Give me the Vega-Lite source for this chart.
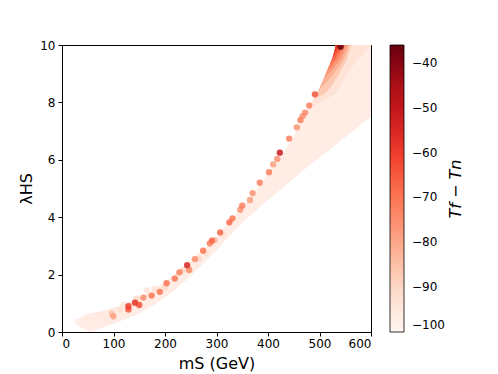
{
  "$schema": "https://vega.github.io/schema/vega-lite/v6.json",
  "width": 309,
  "height": 287,
  "autosize": {"type": "none"},
  "padding": {"left": 62, "top": 45, "right": 127, "bottom": 42},
  "background": "white",
  "config": {
    "font": "DejaVu Sans",
    "view": {"stroke": "black", "strokeWidth": 1},
    "axis": {"grid": false, "labelFont": "DejaVu Sans", "labelFontSize": 12, "labelColor": "black", "tickColor": "black", "domainColor": "black", "tickSize": 4, "titleFont": "DejaVu Sans", "titleFontSize": 16, "titleFontWeight": "normal", "titleColor": "black"},
    "legend": {"labelFont": "DejaVu Sans", "labelFontSize": 12, "labelColor": "black"}
  },
  "datasets": {
    "band": [
      {"m": 25, "lo": 0.3, "hi": 0.42, "T": -97},
      {"m": 40, "lo": 0.12, "hi": 0.55, "T": -97},
      {"m": 55, "lo": 0.0, "hi": 0.65, "T": -97},
      {"m": 75, "lo": 0.12, "hi": 0.72, "T": -97},
      {"m": 100, "lo": 0.3, "hi": 0.85, "T": -97},
      {"m": 125, "lo": 0.45, "hi": 1.0, "T": -97},
      {"m": 150, "lo": 0.65, "hi": 1.2, "T": -97},
      {"m": 175, "lo": 0.9, "hi": 1.45, "T": -97},
      {"m": 200, "lo": 1.2, "hi": 1.75, "T": -97},
      {"m": 225, "lo": 1.55, "hi": 2.1, "T": -97},
      {"m": 250, "lo": 1.95, "hi": 2.5, "T": -97},
      {"m": 275, "lo": 2.4, "hi": 2.9, "T": -97},
      {"m": 300, "lo": 2.85, "hi": 3.3, "T": -97},
      {"m": 330, "lo": 3.45, "hi": 3.95, "T": -97},
      {"m": 365, "lo": 4.05, "hi": 4.65, "T": -97},
      {"m": 400, "lo": 4.6, "hi": 5.5, "T": -97},
      {"m": 430, "lo": 5.05, "hi": 6.25, "T": -97},
      {"m": 450, "lo": 5.35, "hi": 6.85, "T": -97},
      {"m": 470, "lo": 5.65, "hi": 7.5, "T": -97},
      {"m": 480, "lo": 5.79, "hi": 7.89, "T": -97},
      {"m": 494, "lo": 5.99, "hi": 8.29, "T": -97},
      {"m": 507.5, "lo": 6.18, "hi": 8.76, "T": -97},
      {"m": 520, "lo": 6.36, "hi": 9.33, "T": -97},
      {"m": 530, "lo": 6.5, "hi": 9.9, "T": -97},
      {"m": 532, "lo": 6.53, "hi": 10, "T": -97},
      {"m": 600, "lo": 7.5, "hi": 10, "T": -97}
    ],
    "fade": [
      {"l": 7.8, "m0": 480, "m1": 480, "T": -93},
      {"l": 8.29, "m0": 494, "m1": 531, "T": -93},
      {"l": 8.55, "m0": 501.5, "m1": 540, "T": -93},
      {"l": 8.9, "m0": 510, "m1": 550, "T": -93},
      {"l": 9.2, "m0": 517, "m1": 562, "T": -93},
      {"l": 9.5, "m0": 524.5, "m1": 575, "T": -93},
      {"l": 9.75, "m0": 528.5, "m1": 588, "T": -93},
      {"l": 10, "m0": 532, "m1": 600, "T": -93},
      {"l": 8.13, "m0": 489.4, "m1": 489.4, "T": -87},
      {"l": 8.29, "m0": 494, "m1": 510, "T": -87},
      {"l": 8.55, "m0": 501.5, "m1": 522.8, "T": -87},
      {"l": 8.9, "m0": 510, "m1": 535.1, "T": -87},
      {"l": 9.2, "m0": 517, "m1": 544.2, "T": -87},
      {"l": 9.5, "m0": 524.5, "m1": 552.9, "T": -87},
      {"l": 9.75, "m0": 528.5, "m1": 557.6, "T": -87},
      {"l": 10, "m0": 532, "m1": 561.6, "T": -87},
      {"l": 8.46, "m0": 498.9, "m1": 498.9, "T": -82},
      {"l": 8.55, "m0": 501.5, "m1": 505, "T": -82},
      {"l": 8.9, "m0": 510, "m1": 523.7, "T": -82},
      {"l": 9.2, "m0": 517, "m1": 536.2, "T": -82},
      {"l": 9.5, "m0": 524.5, "m1": 547, "T": -82},
      {"l": 9.75, "m0": 528.5, "m1": 552.7, "T": -82},
      {"l": 10, "m0": 532, "m1": 557.6, "T": -82},
      {"l": 8.83, "m0": 508.3, "m1": 508.3, "T": -77},
      {"l": 8.9, "m0": 510, "m1": 512.3, "T": -77},
      {"l": 9.2, "m0": 517, "m1": 528.2, "T": -77},
      {"l": 9.5, "m0": 524.5, "m1": 541.1, "T": -77},
      {"l": 9.75, "m0": 528.5, "m1": 547.9, "T": -77},
      {"l": 10, "m0": 532, "m1": 553.6, "T": -77},
      {"l": 9.1, "m0": 514.7, "m1": 514.7, "T": -72},
      {"l": 9.2, "m0": 517, "m1": 520.2, "T": -72},
      {"l": 9.5, "m0": 524.5, "m1": 535.2, "T": -72},
      {"l": 9.75, "m0": 528.5, "m1": 543, "T": -72},
      {"l": 10, "m0": 532, "m1": 549.6, "T": -72},
      {"l": 9.33, "m0": 520.2, "m1": 520.2, "T": -67},
      {"l": 9.5, "m0": 524.5, "m1": 529.2, "T": -67},
      {"l": 9.75, "m0": 528.5, "m1": 538.2, "T": -67},
      {"l": 10, "m0": 532, "m1": 545.6, "T": -67},
      {"l": 9.54, "m0": 525.1, "m1": 525.1, "T": -62},
      {"l": 9.75, "m0": 528.5, "m1": 533.3, "T": -62},
      {"l": 10, "m0": 532, "m1": 541.6, "T": -62},
      {"l": 9.75, "m0": 528.5, "m1": 528.5, "T": -57},
      {"l": 10, "m0": 532, "m1": 537.6, "T": -57},
      {"l": 9.93, "m0": 531, "m1": 531, "T": -52},
      {"l": 10, "m0": 532, "m1": 533.6, "T": -52}
    ],
    "pts": [
      {"m": 32, "l": 0.36, "T": -97},
      {"m": 48, "l": 0.5, "T": -96},
      {"m": 62, "l": 0.45, "T": -95},
      {"m": 75, "l": 0.6, "T": -94},
      {"m": 86, "l": 0.5, "T": -95},
      {"m": 113, "l": 0.77, "T": -92},
      {"m": 120, "l": 0.95, "T": -94},
      {"m": 145, "l": 1.17, "T": -90},
      {"m": 165, "l": 1.45, "T": -93},
      {"m": 180, "l": 1.5, "T": -92},
      {"m": 200, "l": 1.55, "T": -91},
      {"m": 235, "l": 2.15, "T": -90},
      {"m": 265, "l": 2.55, "T": -90},
      {"m": 280, "l": 2.75, "T": -92},
      {"m": 312, "l": 3.4, "T": -92},
      {"m": 96.5, "l": 0.65, "T": -86},
      {"m": 99.7, "l": 0.55, "T": -78},
      {"m": 129, "l": 0.9, "T": -60},
      {"m": 129, "l": 0.78, "T": -64},
      {"m": 141.7, "l": 1.02, "T": -58},
      {"m": 150, "l": 0.94, "T": -63},
      {"m": 158, "l": 1.2, "T": -75},
      {"m": 174, "l": 1.27, "T": -70},
      {"m": 190, "l": 1.4, "T": -70},
      {"m": 203, "l": 1.7, "T": -70},
      {"m": 219, "l": 1.86, "T": -70},
      {"m": 228, "l": 2.08, "T": -72},
      {"m": 243, "l": 2.33, "T": -55},
      {"m": 247, "l": 2.16, "T": -74},
      {"m": 258, "l": 2.54, "T": -74},
      {"m": 274, "l": 2.83, "T": -70},
      {"m": 287, "l": 3.09, "T": -72},
      {"m": 291, "l": 3.18, "T": -68},
      {"m": 296, "l": 3.2, "T": -82},
      {"m": 307, "l": 3.47, "T": -68},
      {"m": 325, "l": 3.82, "T": -68},
      {"m": 331, "l": 3.96, "T": -70},
      {"m": 346, "l": 4.26, "T": -76},
      {"m": 350, "l": 4.4, "T": -72},
      {"m": 365, "l": 4.6, "T": -78},
      {"m": 370, "l": 4.84, "T": -76},
      {"m": 384, "l": 5.2, "T": -72},
      {"m": 402, "l": 5.57, "T": -72},
      {"m": 410, "l": 5.84, "T": -78},
      {"m": 418, "l": 6.03, "T": -76},
      {"m": 423, "l": 6.25, "T": -52},
      {"m": 441, "l": 6.74, "T": -72},
      {"m": 456, "l": 7.13, "T": -76},
      {"m": 463, "l": 7.38, "T": -72},
      {"m": 467, "l": 7.52, "T": -76},
      {"m": 472, "l": 7.64, "T": -74},
      {"m": 480, "l": 7.89, "T": -72},
      {"m": 491, "l": 8.28, "T": -64},
      {"m": 541, "l": 9.94, "T": -36}
    ]
  },
  "resolve": {"axis": {"y": "independent"}},
  "layer": [
    {
      "data": {"name": "band"},
      "mark": {"type": "area", "interpolate": "linear", "clip": true},
      "encoding": {
        "x": {"field": "m", "type": "quantitative"},
        "y": {"field": "lo", "type": "quantitative", "axis": {"orient": "left", "values": [0, 2, 4, 6, 8, 10], "title": "λHS", "titlePadding": 5, "labelPadding": 3}},
        "y2": {"field": "hi"},
        "color": {"field": "T", "type": "quantitative"}
      }
    },
    {
      "data": {"name": "fade"},
      "mark": {"type": "area", "orient": "horizontal", "interpolate": "linear", "clip": true},
      "encoding": {
        "y": {"field": "l", "type": "quantitative", "axis": null},
        "x": {"field": "m0", "type": "quantitative"},
        "x2": {"field": "m1"},
        "color": {"field": "T", "type": "quantitative"}
      }
    },
    {
      "data": {"name": "pts"},
      "mark": {"type": "circle", "size": 40, "fillOpacity": 0.85, "clip": true},
      "encoding": {
        "x": {"field": "m", "type": "quantitative", "scale": {"domain": [0, 600], "nice": false, "zero": false}, "axis": {"values": [0, 100, 200, 300, 400, 500, 600], "title": "mS (GeV)", "titlePadding": 6, "labelPadding": 2}},
        "y": {"field": "l", "type": "quantitative", "scale": {"domain": [0, 10], "nice": false}, "axis": {"orient": "right", "labels": false, "ticks": false, "domain": false, "title": "Tf − Tn", "titleAngle": 270, "titleBaseline": "top", "titlePadding": 76, "titleFontStyle": "italic"}},
        "order": {"field": "T", "type": "quantitative", "sort": "ascending"},
        "color": {
          "field": "T", "type": "quantitative",
          "scale": {"domain": [-100, -36], "range": ["#fff5f0", "#fee0d2", "#fcbba1", "#fc9272", "#fb6a4a", "#ef3b2c", "#cb181d", "#a50f15", "#67000d"], "clamp": true},
          "legend": {
            "title": null,
            "orient": "none",
            "legendX": 328,
            "legendY": 0,
            "padding": 0,
            "direction": "vertical",
            "gradientLength": 287,
            "gradientThickness": 14,
            "gradientOpacity": 1,
            "gradientStrokeColor": "black",
            "gradientStrokeWidth": 0.8,
            "values": [-100, -90, -80, -70, -60, -50, -40],
            "labelOffset": 8,
            "labelOverlap": false
          }
        }
      }
    }
  ]
}
